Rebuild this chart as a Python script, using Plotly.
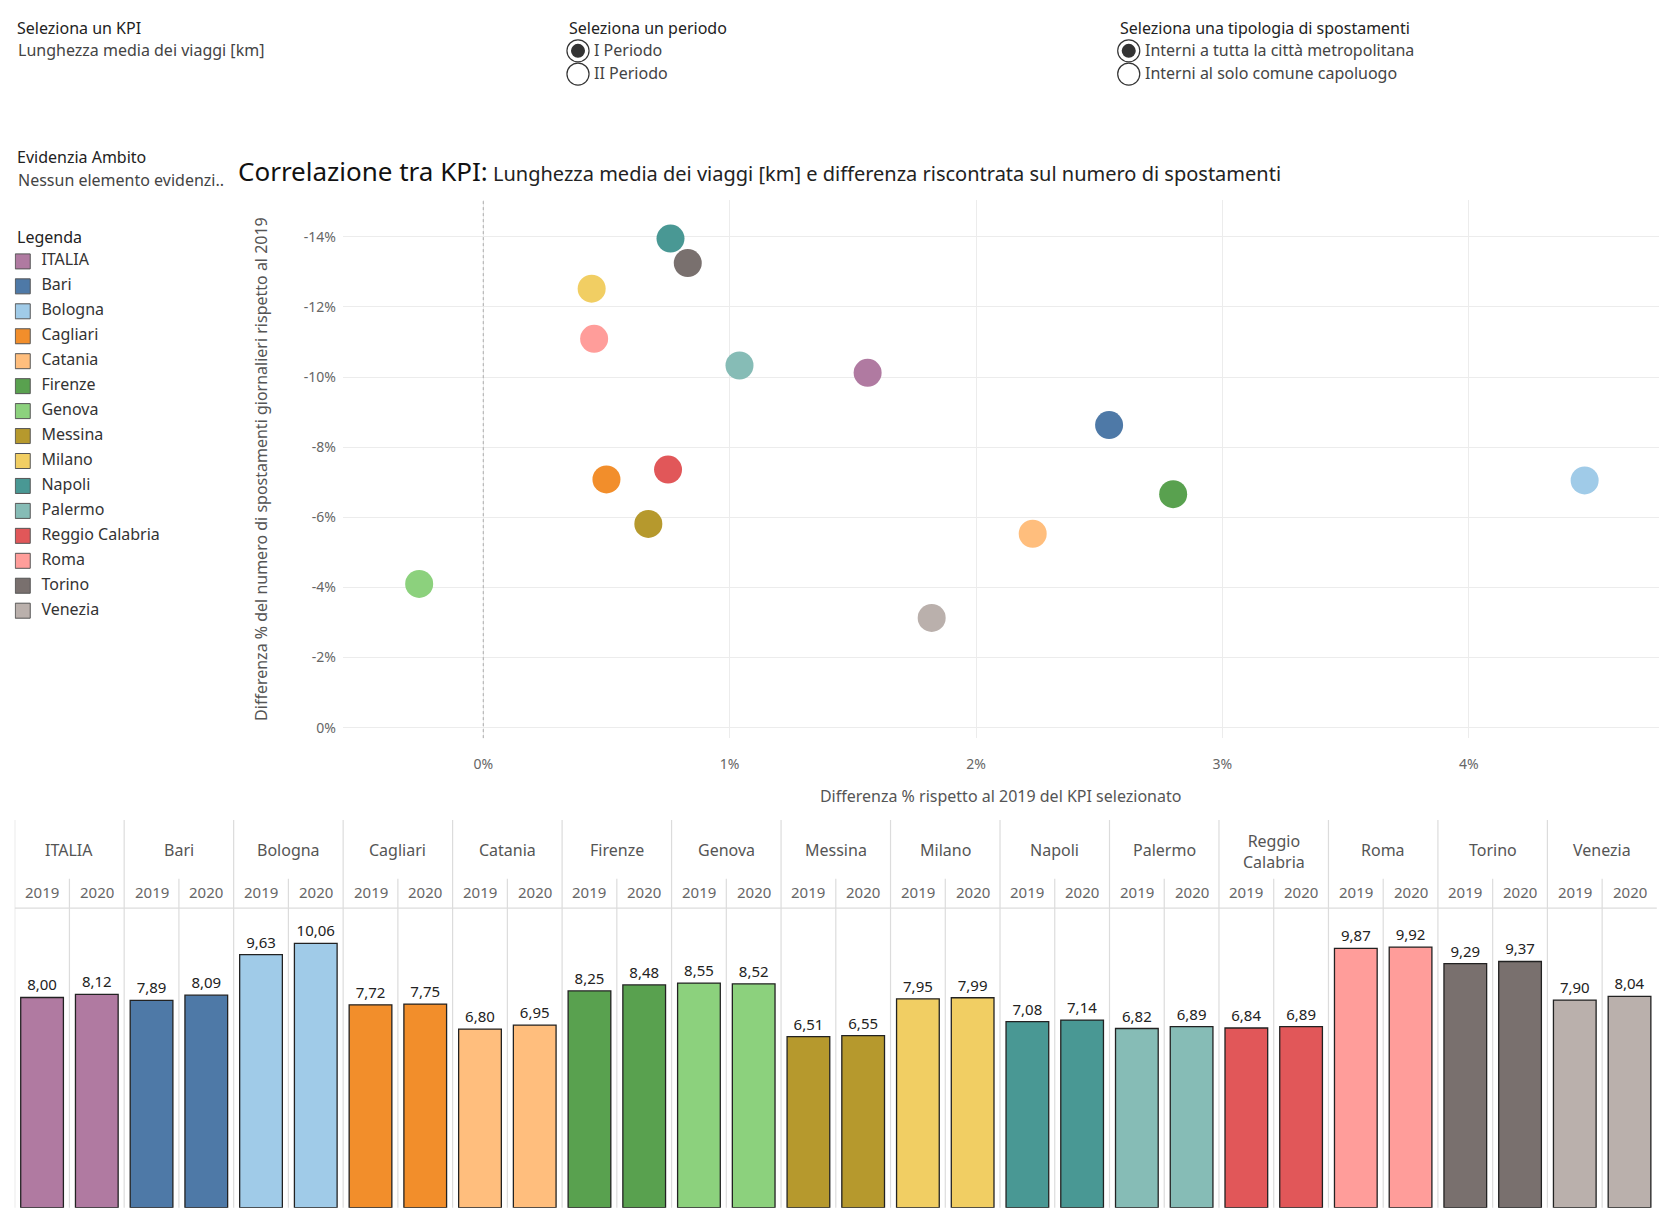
import plotly.graph_objects as go

FONT = "Noto Sans"

ambiti = ["ITALIA", "Bari", "Bologna", "Cagliari", "Catania", "Firenze", "Genova", "Messina",
          "Milano", "Napoli", "Palermo", "Reggio Calabria", "Roma", "Torino", "Venezia"]
colori = ["#B07AA1", "#4E79A7", "#A0CBE8", "#F28E2B", "#FFBE7D", "#59A14F", "#8CD17D", "#B6992D",
          "#F1CE63", "#499894", "#86BCB6", "#E15759", "#FF9D9A", "#79706E", "#BAB0AC"]
# differenza % KPI (x) e differenza % spostamenti (y)
diff_kpi = [1.56, 2.54, 4.47, 0.50, 2.23, 2.80, -0.26, 0.67, 0.44, 0.76, 1.04, 0.75, 0.45, 0.83, 1.82]
diff_spost = [-10.12, -8.63, -7.05, -7.08, -5.53, -6.66, -4.10, -5.81, -12.52, -13.95, -10.33, -7.36,
              -11.09, -13.25, -3.13]
# lunghezza media viaggi [km]
km_2019 = [8.00, 7.89, 9.63, 7.72, 6.80, 8.25, 8.55, 6.51, 7.95, 7.08, 6.82, 6.84, 9.87, 9.29, 7.90]
km_2020 = [8.12, 8.09, 10.06, 7.75, 6.95, 8.48, 8.52, 6.55, 7.99, 7.14, 6.89, 6.89, 9.92, 9.37, 8.04]
anni = ["2019", "2020"]

DX, DY = -0.005, 0.007


def X(f):
    return f + DX


def Y(f):
    return f + DY


fig = go.Figure()

# scatter
for i, a in enumerate(ambiti):
    fig.add_trace(go.Scatter(x=[diff_kpi[i]], y=[diff_spost[i]], mode="markers", name=a,
                             marker=dict(size=28, color=colori[i]), showlegend=False,
                             xaxis="x", yaxis="y"))

# barre
bx, by, bc, bt = [], [], [], []
for i in range(len(ambiti)):
    for j, v in enumerate([km_2019[i], km_2020[i]]):
        bx.append(2 * i + j)
        by.append(v)
        bc.append(colori[i])
        bt.append(f"{v:.2f}".replace(".", ","))
fig.add_trace(go.Bar(x=bx, y=by, marker=dict(color=bc, line=dict(color="#222", width=1.3)),
                     width=0.78, text=bt, textposition="outside", cliponaxis=False,
                     textfont=dict(size=15, color="#222", family=FONT), showlegend=False,
                     xaxis="x2", yaxis="y2"))

# legenda
fig.add_trace(go.Scatter(x=[0.4] * len(ambiti), y=list(range(len(ambiti))), mode="markers+text",
                         text=["  " + a for a in ambiti], textposition="middle right",
                         textfont=dict(size=16, color="#333", family=FONT),
                         marker=dict(symbol="square", size=15, color=colori, line=dict(color="#555", width=1)),
                         showlegend=False, xaxis="x3", yaxis="y3", hoverinfo="skip"))

shapes = []
annotations = []
grid = "#dcdcdc"
BOT = Y(0.012)
# strutture tabella barre
for g in range(len(ambiti)):
    shapes.append(dict(type="line", xref="x2", yref="paper", x0=2 * g - 0.5, x1=2 * g - 0.5,
                       y0=BOT, y1=Y(0.329), line=dict(color=grid, width=1.2)))
    shapes.append(dict(type="line", xref="x2", yref="paper", x0=2 * g + 0.5, x1=2 * g + 0.5,
                       y0=BOT, y1=Y(0.281), line=dict(color=grid, width=1.2)))
    if ambiti[g] == "Reggio Calabria":
        name, yy = "Reggio<br>Calabria", Y(0.294) - 0.010
    else:
        name, yy = ambiti[g], Y(0.294)
    annotations.append(dict(x=2 * g + 0.5, y=yy, xref="x2", yref="paper", text=name, showarrow=False,
                            font=dict(size=16, color="#555", family=FONT)))
    for j in range(2):
        annotations.append(dict(x=2 * g + j, y=Y(0.260), xref="x2", yref="paper", text=anni[j], showarrow=False,
                                font=dict(size=15, color="#666", family=FONT)))
shapes.append(dict(type="line", xref="x2", yref="paper", x0=-0.5, x1=29.5, y0=Y(0.257), y1=Y(0.257),
                   line=dict(color=grid, width=1.2)))
# linea zero tratteggiata
shapes.append(dict(type="line", xref="x", yref="paper", x0=0, x1=0, y0=Y(0.396), y1=Y(0.836),
                   line=dict(color="#aaa", width=1, dash="dot")))


def txt(x, y, s, size=16, color="#333", anchor="left"):
    annotations.append(dict(x=X(x), y=Y(y), xref="paper", yref="paper", text=s, showarrow=False,
                            xanchor=anchor, yanchor="middle", font=dict(size=size, color=color, family=FONT)))


txt(0.009, 0.977, "Seleziona un KPI", 16, "#222")
txt(0.010, 0.959, "Lunghezza media dei viaggi [km]", 16, "#444")
txt(0.339, 0.977, "Seleziona un periodo", 16, "#222")
txt(0.354, 0.959, "I Periodo", 16, "#444")
txt(0.354, 0.940, "II Periodo", 16, "#444")
txt(0.668, 0.977, "Seleziona una tipologia di spostamenti", 16, "#222")
txt(0.683, 0.959, "Interni a tutta la città metropolitana", 16, "#444")
txt(0.683, 0.940, "Interni al solo comune capoluogo", 16, "#444")
txt(0.009, 0.871, "Evidenzia Ambito", 16, "#222")
txt(0.010, 0.852, "Nessun elemento evidenzi..", 16, "#444")
txt(0.009, 0.806, "Legenda", 16, "#222")
txt(0.141, 0.860, "<span style='font-size:26px;color:#111'>Correlazione tra KPI:</span> "
                  "Lunghezza media dei viaggi [km] e differenza riscontrata sul numero di spostamenti",
    20, "#222")

# radio button
for cx, cy, sel in [(0.3455, 0.958, True), (0.3455, 0.939, False), (0.6745, 0.958, True), (0.6745, 0.939, False)]:
    cx, cy = X(cx), Y(cy)
    shapes.append(dict(type="circle", xref="paper", yref="paper", x0=cx - 0.0066, x1=cx + 0.0066,
                       y0=cy - 0.009, y1=cy + 0.009, line=dict(color="#333", width=1.2), fillcolor="white"))
    if sel:
        shapes.append(dict(type="circle", xref="paper", yref="paper", x0=cx - 0.0042, x1=cx + 0.0042,
                           y0=cy - 0.0057, y1=cy + 0.0057, line=dict(width=0), fillcolor="#333"))

fig.update_layout(
    width=1674, height=1223, margin=dict(l=0, r=0, t=0, b=0),
    paper_bgcolor="white", plot_bgcolor="white",
    font=dict(family=FONT, color="#555"),
    shapes=shapes, annotations=annotations,
    xaxis=dict(domain=[X(0.205), X(0.991)], range=[-0.57, 4.77], tickvals=[0, 1, 2, 3, 4],
               ticktext=["0%", "1%", "2%", "3%", "4%"], showgrid=True, gridcolor="#ececec",
               zeroline=False, ticks="", ticklabelstandoff=16, tickfont=dict(size=14, color="#666"),
               title=dict(text="Differenza % rispetto al 2019 del KPI selezionato", standoff=18,
                          font=dict(size=16, color="#555"))),
    yaxis=dict(domain=[Y(0.396), Y(0.836)], range=[0.3, -15.05], tickvals=[0, -2, -4, -6, -8, -10, -12, -14],
               ticktext=["0%", "-2%", "-4%", "-6%", "-8%", "-10%", "-12%", "-14%"],
               showgrid=True, gridcolor="#ececec", zeroline=False, ticks="", ticklabelstandoff=6,
               tickfont=dict(size=14, color="#666"),
               title=dict(text="Differenza % del numero di spostamenti giornalieri rispetto al 2019",
                          standoff=32, font=dict(size=16, color="#555"))),
    xaxis2=dict(domain=[X(0.009), X(0.990)], range=[-0.5, 29.5], anchor="y2", visible=False),
    yaxis2=dict(domain=[BOT, Y(0.257)], range=[0, 11.4], anchor="x2", visible=False),
    xaxis3=dict(domain=[X(0.009), X(0.129)], range=[0, 10], anchor="y3", visible=False),
    yaxis3=dict(domain=[Y(0.490), Y(0.796)], range=[14.5, -0.5], anchor="x3", visible=False),
)

fig.write_html("out.html")
